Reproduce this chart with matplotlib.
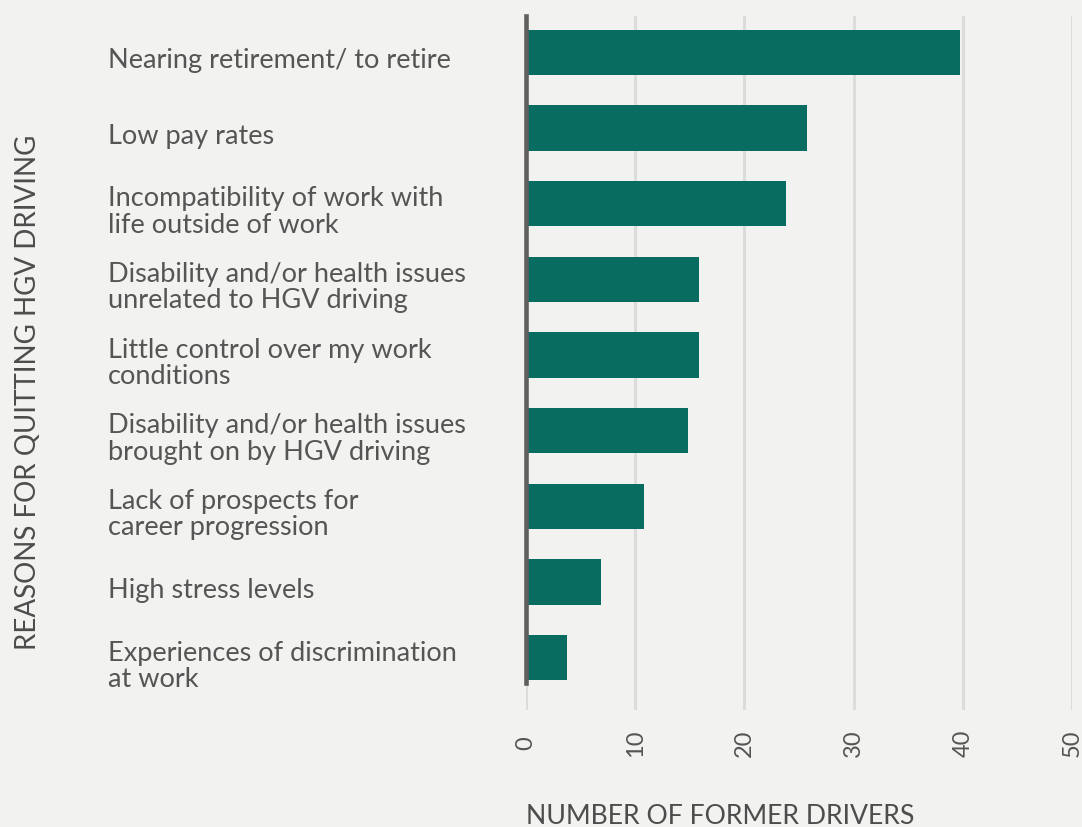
import matplotlib.pyplot as plt
import matplotlib.transforms as mtransforms

# reasons, top to bottom
reasons = [
    'Nearing retirement/ to retire',
    'Low pay rates',
    'Incompatibility of work with\nlife outside of work',
    'Disability and/or health issues\nunrelated to HGV driving',
    'Little control over my work\nconditions',
    'Disability and/or health issues\nbrought on by HGV driving',
    'Lack of prospects for\ncareer progression',
    'High stress levels',
    'Experiences of discrimination\nat work',
]
drivers = [39.7, 25.7, 23.8, 15.8, 15.8, 14.8, 10.8, 6.9, 3.8]
xticks = [0, 10, 20, 30, 40, 50]

bg = '#f2f2f0'
bar_color = '#086d60'
text_color = '#555555'
font = 'Lato'

fig = plt.figure(figsize=(10.82, 8.27), dpi=100, facecolor=bg)
ax = fig.add_axes([526 / 1082, 1 - 710 / 827, (1072 - 526) / 1082, (710 - 16) / 827])
ax.set_facecolor(bg)

pos = list(range(len(reasons)))
ax.barh(pos, drivers, height=0.6, color=bar_color, zorder=2)

ax.set_xlim(0, 50)
ax.set_ylim(8.69, -0.48)

ax.set_xticks(xticks)
ax.set_xticklabels([str(t) for t in xticks], rotation=90, fontsize=17,
                   family=font, color=text_color, va='center')
ax.tick_params(axis='x', length=0, pad=24)
ax.set_yticks([])
ax.grid(axis='x', color='#dcdcdc', linewidth=2.2, zorder=0)

for side in ['top', 'right', 'bottom']:
    ax.spines[side].set_visible(False)
ax.spines['left'].set_color('#606060')
ax.spines['left'].set_linewidth(3.3)
ax.spines['left'].set_bounds(-0.48, 8.33)
ax.spines['left'].set_zorder(3)

# category labels
trans = mtransforms.blended_transform_factory(fig.transFigure, ax.transData)
for p, r in zip(pos, reasons):
    ax.text(108 / 1082, p + 0.11, r, transform=trans, ha='left', va='center',
            fontsize=19.5, family=font, color=text_color, linespacing=1.06)

fig.text(28 / 1082, 1 - 392 / 827, 'REASONS FOR QUITTING HGV DRIVING',
         rotation=90, ha='center', va='center', fontsize=20, family=font,
         color='#4d4d4d')
fig.text(526 / 1082, 1 - 824 / 827, 'NUMBER OF FORMER DRIVERS', ha='left',
         va='baseline', fontsize=19.2, family=font, color='#4d4d4d')

plt.savefig('out.png', dpi=100, facecolor=bg)
